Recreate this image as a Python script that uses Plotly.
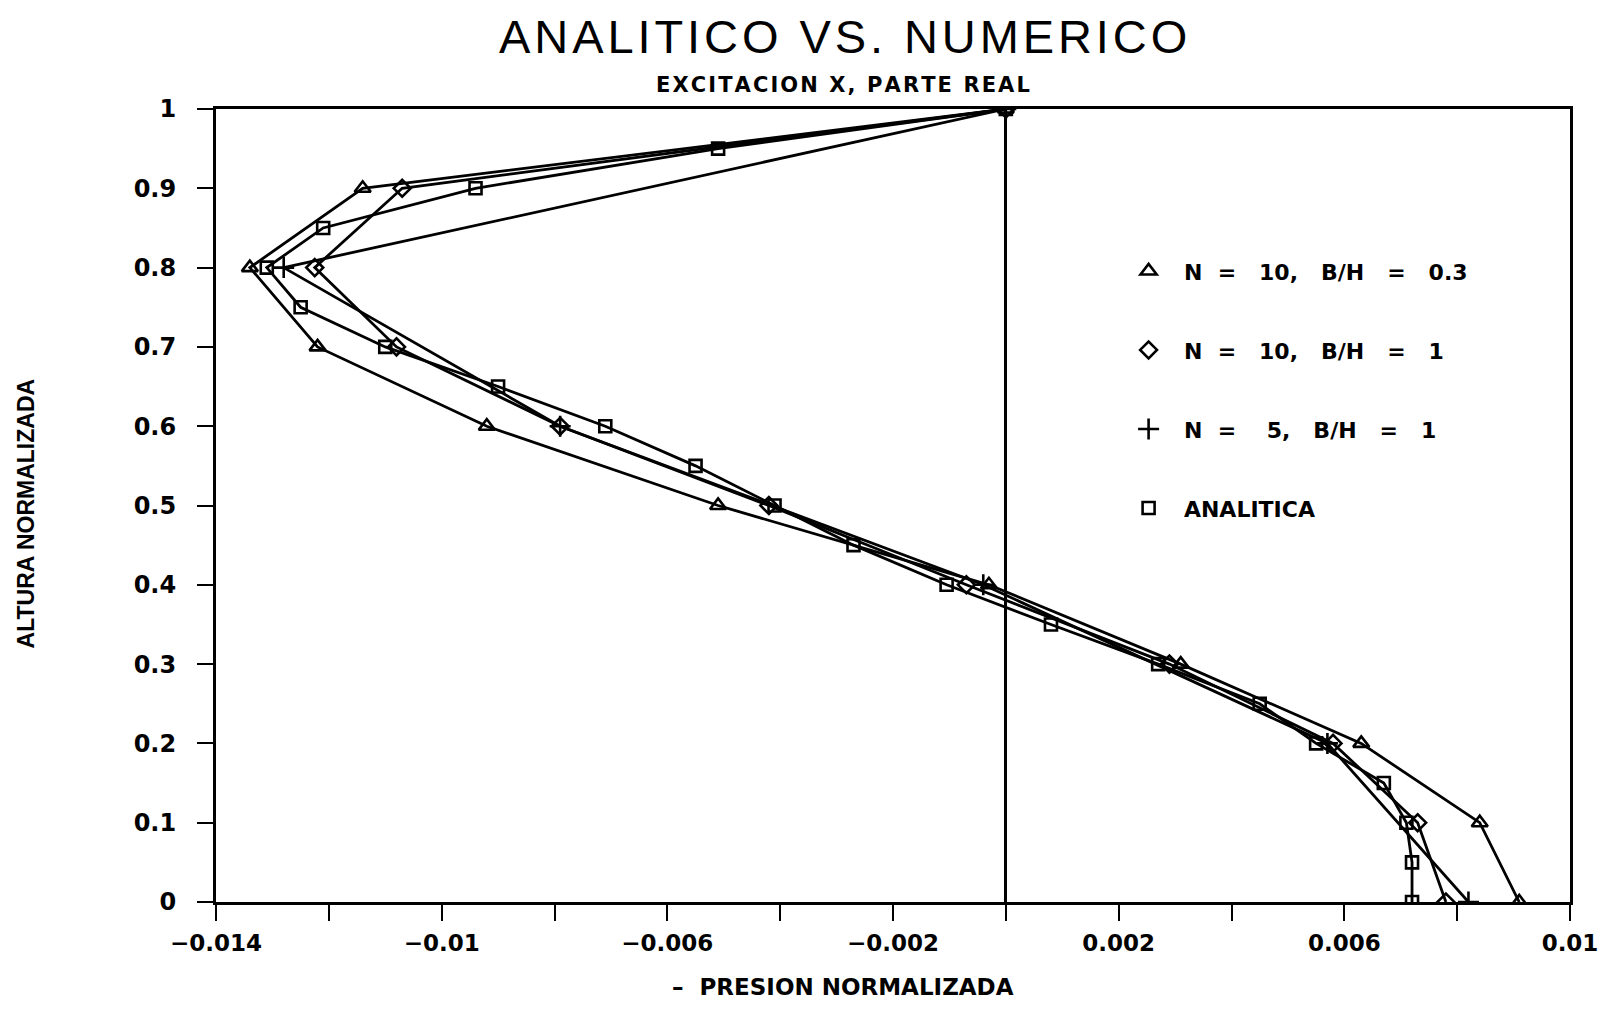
import plotly.graph_objects as go

# ---- data ----
tri_y = [1.0, 0.9, 0.8, 0.7, 0.6, 0.5, 0.4, 0.3, 0.2, 0.1, 0.0]
tri_x = [0.0, -0.0114, -0.0134, -0.0122, -0.0092, -0.0051, -0.0003, 0.0031, 0.0063, 0.0084, 0.0091]

dia_y = [1.0, 0.9, 0.8, 0.7, 0.6, 0.5, 0.4, 0.3, 0.2, 0.1, 0.0]
dia_x = [0.0, -0.0107, -0.01225, -0.0108, -0.0079, -0.0042, -0.0007, 0.0029, 0.0058, 0.0073, 0.0078]

plus_y = [1.0, 0.8, 0.6, 0.4, 0.2, 0.0]
plus_x = [0.0, -0.0128, -0.0079, -0.0004, 0.0057, 0.0082]

ana_y = [1.0, 0.95, 0.9, 0.85, 0.8, 0.75, 0.7, 0.65, 0.6, 0.55, 0.5,
         0.45, 0.4, 0.35, 0.3, 0.25, 0.2, 0.15, 0.1, 0.05, 0.0]
ana_x = [0.0, -0.0051, -0.0094, -0.0121, -0.0131, -0.0125, -0.0110, -0.0090, -0.0071, -0.0055, -0.0041,
         -0.0027, -0.00105, 0.0008, 0.0027, 0.0045, 0.0055, 0.0067, 0.0071, 0.0072, 0.0072]

series_names = ["\u00a0\u00a0N  =   10,   B/H   =   0.3",
                "\u00a0\u00a0N  =   10,   B/H   =   1",
                "\u00a0\u00a0N  =    5,   B/H   =   1",
                "\u00a0\u00a0ANALITICA"]

x_tickvals = [-0.014, -0.012, -0.010, -0.008, -0.006, -0.004, -0.002, 0.0, 0.002, 0.004, 0.006, 0.008, 0.010]
x_ticktext = ["\u22120.014", "", "\u22120.01", "", "\u22120.006", "", "\u22120.002", "", "0.002", "", "0.006", "", "0.01"]
y_tickvals = [0, 0.1, 0.2, 0.3, 0.4, 0.5, 0.6, 0.7, 0.8, 0.9, 1.0]
y_ticktext = ["0", "0.1", "0.2", "0.3", "0.4", "0.5", "0.6", "0.7", "0.8", "0.9", "1"]

title_text = "ANALITICO VS. NUMERICO"
subtitle_text = "EXCITACION X, PARTE REAL"

WIDE = "DejaVu Sans, Liberation Sans, sans-serif"
FONT = "Liberation Sans, Arial, sans-serif"

HAIR = "\u200a"
spaced_title = HAIR.join(list(title_text))
spaced_subtitle = HAIR.join(list(subtitle_text))

fig = go.Figure()

specs = [
    (tri_x, tri_y, "triangle-up-open", 14),
    (dia_x, dia_y, "diamond-open", 13),
    (plus_x, plus_y, "cross-thin-open", 15),
    (ana_x, ana_y, "square-open", 12),
]

for i, (xs, ys, sym, sz) in enumerate(specs):
    fig.add_trace(go.Scatter(
        x=xs, y=ys, mode="lines+markers",
        line=dict(color="black", width=2.8),
        marker=dict(symbol=sym, size=sz, color="black", line=dict(color="black", width=2.6)),
        showlegend=False,
    ))

for i, (xs, ys, sym, sz) in enumerate(specs):
    fig.add_trace(go.Scatter(
        x=[None], y=[None], mode="markers", name=series_names[i],
        legendgroup=f"g{i}",
        marker=dict(symbol=sym, size=sz, color="black", line=dict(color="black", width=2.6)),
        showlegend=True,
    ))

fig.update_xaxes(
    range=[-0.014, 0.010], showline=True, mirror=True, linecolor="black", linewidth=3,
    ticks="outside", ticklen=16, tickwidth=2, tickcolor="black",
    tickvals=x_tickvals, ticktext=x_ticktext, showgrid=False,
    zeroline=True, zerolinecolor="black", zerolinewidth=2.5,
    ticklabelstandoff=2, automargin=False, ticklabeloverflow="allow",
    tickfont=dict(family=WIDE, size=23, color="black", weight="bold"),
)
fig.update_yaxes(
    range=[0, 1.0], showline=True, mirror=True, linecolor="black", linewidth=3,
    ticks="outside", ticklen=16, tickwidth=2, tickcolor="black",
    tickvals=y_tickvals, ticktext=y_ticktext, showgrid=False, zeroline=False,
    ticklabelstandoff=16, automargin=False, ticklabeloverflow="allow",
    tickfont=dict(family=WIDE, size=24, color="black", weight="bold"),
)

fig.update_layout(
    width=1590, height=994,
    margin=dict(l=208, r=28, t=101, b=100),
    paper_bgcolor="white", plot_bgcolor="white",
    legend=dict(
        x=0.674, y=0.822, xanchor="left", yanchor="top",
        font=dict(family=WIDE, size=22, color="black", weight="bold"),
        tracegroupgap=47.4, bgcolor="rgba(0,0,0,0)",
    ),
    annotations=[
        dict(text=spaced_title, xref="paper", yref="paper", x=0.463, y=1.0916,
             xanchor="center", yanchor="middle", showarrow=False,
             font=dict(family=FONT, size=47, color="black")),
        dict(text=spaced_subtitle, xref="paper", yref="paper", x=0.463, y=1.0298,
             xanchor="center", yanchor="middle", showarrow=False,
             font=dict(family=WIDE, size=21, color="black", weight="bold")),
        dict(text="\u2013  PRESION NORMALIZADA", xref="paper", yref="paper", x=0.463, y=-0.1068,
             xanchor="center", yanchor="middle", showarrow=False,
             font=dict(family=WIDE, size=23, color="black", weight="bold")),
        dict(text="ALTURA NORMALIZADA", xref="paper", yref="paper", x=-0.1403, y=0.49,
             xanchor="center", yanchor="middle", showarrow=False, textangle=-90,
             font=dict(family=FONT, size=23, color="black", weight="bold")),
    ],
)

fig.write_html("out.html")
